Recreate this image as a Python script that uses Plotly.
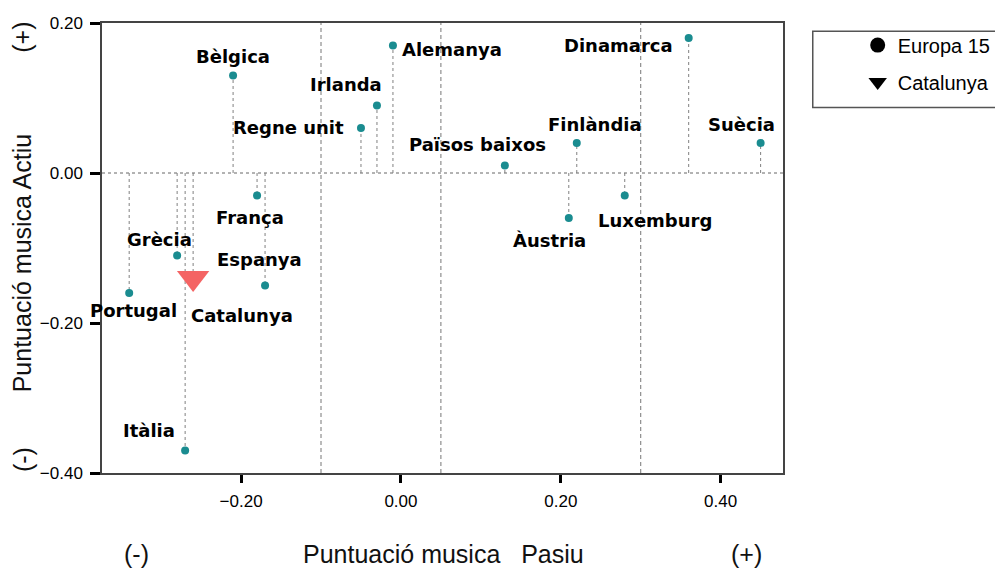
import plotly.graph_objects as go

# ---- data ----
countries = ["Bèlgica", "Alemanya", "Irlanda", "Regne unit", "Països baixos",
             "Dinamarca", "Finlàndia", "Suècia", "Luxemburg", "Àustria",
             "França", "Grècia", "Espanya", "Portugal", "Itàlia"]
pasiu = [-0.21, -0.01, -0.03, -0.05, 0.13, 0.36, 0.22, 0.45, 0.28, 0.21,
         -0.18, -0.28, -0.17, -0.34, -0.27]
actiu = [0.13, 0.17, 0.09, 0.06, 0.01, 0.18, 0.04, 0.04, -0.03, -0.06,
         -0.03, -0.11, -0.15, -0.16, -0.37]

cat_name = ["Catalunya"]
cat_pasiu = [-0.26]
cat_actiu = [-0.14]

ref_lines_x = [-0.10, 0.05, 0.30]
x_ticks = [-0.20, 0.00, 0.20, 0.40]
y_ticks = [-0.40, -0.20, 0.00, 0.20]

# ---- label placement (pixel offsets, anchor) ----
label_style = {
    "Bèlgica": ("center", 0, -19), "Alemanya": ("left", 7, 4),
    "Irlanda": ("right", 7, -21), "Regne unit": ("right", -15, -1),
    "Països baixos": ("center", -27, -21), "Dinamarca": ("right", -14, 7),
    "Finlàndia": ("center", 18, -19), "Suècia": ("center", -19, -19),
    "Luxemburg": ("left", -29, 25), "Àustria": ("center", -19, 22),
    "França": ("center", -7, 22), "Grècia": ("center", -18, -16),
    "Espanya": ("center", -6, -26), "Portugal": ("right", 50, 17),
    "Itàlia": ("right", -8, -20), "Catalunya": ("left", -4, 37),
}

TEAL = "#1a8c90"
SALMON = "#f46464"
LBL_FONT = dict(family="DejaVu Sans", size=18, color="black")
TXT_FONT = dict(family="Liberation Sans, Arial", size=25, color="#111")

fig = go.Figure()

# drop lines from points to zero
all_x = pasiu + cat_pasiu
all_y = actiu + cat_actiu
dx, dy = [], []
for xv, yv in zip(all_x, all_y):
    dx += [xv, xv, None]
    dy += [0, yv, None]
fig.add_trace(go.Scatter(x=dx, y=dy, mode="lines", showlegend=False,
                         hoverinfo="skip",
                         line=dict(color="#808080", width=1, dash="dot")))

fig.add_trace(go.Scatter(x=pasiu, y=actiu, mode="markers", text=countries,
                         showlegend=False,
                         marker=dict(symbol="circle", size=8, color=TEAL)))
fig.add_trace(go.Scatter(x=cat_pasiu, y=cat_actiu, mode="markers", text=cat_name,
                         showlegend=False,
                         marker=dict(symbol="triangle-down", size=28, color=SALMON)))

# legend-only traces (black symbols)
fig.add_trace(go.Scatter(x=[None], y=[None], mode="markers", name="Europa 15",
                         legendgroup="a",
                         marker=dict(symbol="circle", size=15, color="black")))
fig.add_trace(go.Scatter(x=[None], y=[None], mode="markers", name="Catalunya",
                         legendgroup="b",
                         marker=dict(symbol="triangle-down", size=16, color="black")))

shapes = []
for xv in ref_lines_x:
    shapes.append(dict(type="line", xref="x", yref="paper", x0=xv, x1=xv, y0=0, y1=1,
                       line=dict(color="#777", width=1, dash="4px,3px"), layer="below"))
shapes.append(dict(type="line", xref="paper", yref="y", x0=0, x1=1, y0=0, y1=0,
                   line=dict(color="#666", width=1, dash="dot"), layer="below"))
# legend box
shapes.append(dict(type="rect", xref="paper", yref="paper",
                   x0=1.0437, x1=1.33, y0=0.812, y1=0.9816,
                   line=dict(color="#555", width=1.5), fillcolor="rgba(0,0,0,0)"))

annotations = []
for name, xv, yv in zip(countries + cat_name, all_x, all_y):
    anc, ox, oy = label_style[name]
    annotations.append(dict(x=xv, y=yv, xref="x", yref="y", text="<b>" + name + "</b>",
                            showarrow=False, xanchor=anc, yanchor="middle",
                            xshift=ox, yshift=-oy, font=LBL_FONT))

# axis titles and (+)/(-) marks
annotations += [
    dict(xref="paper", yref="paper", x=-0.117, y=0.4667, textangle=-90,
         text="Puntuació musica Actiu", showarrow=False, font=TXT_FONT,
         xanchor="center", yanchor="middle"),
    dict(xref="paper", yref="paper", x=-0.117, y=0.968, textangle=-90,
         text="(+)", showarrow=False, font=TXT_FONT, xanchor="center", yanchor="middle"),
    dict(xref="paper", yref="paper", x=-0.117, y=0.0295, textangle=-90,
         text="(-)", showarrow=False, font=TXT_FONT, xanchor="center", yanchor="middle"),
    dict(xref="paper", yref="paper", x=0.501, y=-0.179,
         text="Puntuació musica\u00a0\u00a0\u00a0Pasiu", showarrow=False, font=TXT_FONT,
         xanchor="center", yanchor="middle"),
    dict(xref="paper", yref="paper", x=0.0504, y=-0.179, text="(-)",
         showarrow=False, font=TXT_FONT, xanchor="center", yanchor="middle"),
    dict(xref="paper", yref="paper", x=0.9458, y=-0.179, text="(+)",
         showarrow=False, font=TXT_FONT, xanchor="center", yanchor="middle"),
]

TICK_FONT = dict(family="Liberation Sans, Arial", size=17, color="black")

fig.update_layout(
    width=995, height=569,
    margin=dict(l=102, r=212, t=23, b=96),
    paper_bgcolor="white", plot_bgcolor="white",
    shapes=shapes, annotations=annotations,
    showlegend=True,
    legend=dict(xref="container", yref="container", x=0.862, y=0.955,
                xanchor="left", yanchor="top", traceorder="grouped",
                tracegroupgap=8, bgcolor="rgba(0,0,0,0)", borderwidth=0,
                font=dict(family="Liberation Sans, Arial", size=20, color="black")),
    xaxis=dict(range=[-0.374, 0.478], tickvals=x_ticks, tickformat=".2f",
               showgrid=False, zeroline=False, ticks="outside", ticklen=8,
               tickwidth=3, tickcolor="black", showline=True, mirror=True,
               linecolor="#444", linewidth=1.5, tickfont=TICK_FONT,
               ticklabelstandoff=4),
    yaxis=dict(range=[-0.40, 0.20], tickvals=y_ticks, tickformat=".2f",
               showgrid=False, zeroline=False, ticks="outside", ticklen=10,
               tickwidth=3, tickcolor="black", showline=True, mirror=True,
               linecolor="#444", linewidth=1.5, tickfont=TICK_FONT,
               ticklabelstandoff=4),
)

fig.write_html("out.html", config={"displayModeBar": False},
               post_script="document.body.style.margin='0';document.body.style.padding='0';")
